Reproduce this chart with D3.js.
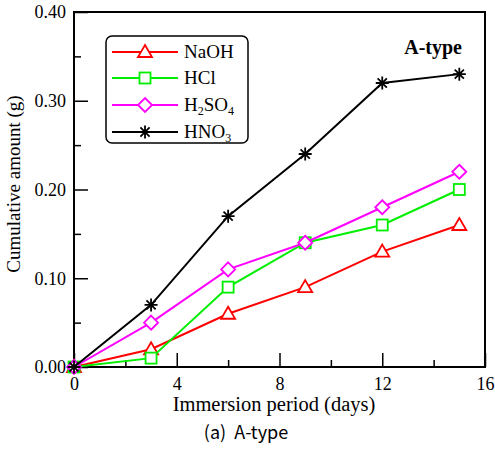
<!DOCTYPE html>
<html>
<head>
<meta charset="utf-8">
<script src="https://cdn.jsdelivr.net/npm/d3@7"></script>
<style>
  body { margin: 0; background: #fff; }
  text { font-family: "Liberation Serif", "Times New Roman", serif; }
</style>
</head>
<body>
<div class="chart"></div>
<script>
'use strict';
(function() {
  // Data
  var days = [0, 3, 6, 9, 12, 15];
  var naoh = [0, 0.02, 0.06, 0.09, 0.13, 0.16];
  var hcl = [0, 0.01, 0.09, 0.14, 0.16, 0.20];
  var h2so4 = [0, 0.05, 0.11, 0.14, 0.18, 0.22];
  var hno3 = [0, 0.07, 0.17, 0.24, 0.32, 0.33];
  var xTicks = [0, 4, 8, 12, 16];
  var yTicks = [0, 0.1, 0.2, 0.3, 0.4];

  var series = [
    {name: 'NaOH', values: naoh, color: '#ff0000', marker: 'triangle'},
    {name: 'HCl', values: hcl, color: '#00ee00', marker: 'square'},
    {name: 'H2SO4', values: h2so4, color: '#ff00ff', marker: 'diamond'},
    {name: 'HNO3', values: hno3, color: '#000000', marker: 'star'}
  ];

  var w = 495;
  var h = 449;
  var left = 74, right = 485, top = 12, bottom = 367;

  var x = d3.scaleLinear().domain([0, 16]).range([left, right]);
  var y = d3.scaleLinear().domain([0, 0.4]).range([bottom, top]);

  var svg = d3.select('.chart').append('svg')
    .attr('width', w)
    .attr('height', h);

  // Axes (inside ticks)
  var xAxis = d3.axisBottom(x).tickValues(xTicks).tickSize(-14).tickPadding(10)
    .tickFormat(d3.format('d'));
  var xMinor = d3.axisBottom(x).tickValues([2, 6, 10, 14]).tickSize(-7).tickFormat('');
  var yAxis = d3.axisLeft(y).tickValues(yTicks).tickSize(-14).tickPadding(8)
    .tickFormat(d3.format('.2f'));
  var yMinor = d3.axisLeft(y).tickValues([0.05, 0.15, 0.25, 0.35]).tickSize(-7).tickFormat('');

  function styleAxis(g) {
    g.attr('font-family', '"Liberation Serif", serif').attr('font-size', 18);
    g.select('.domain').remove();
    g.selectAll('line').attr('stroke', '#000').attr('stroke-width', 1.5);
    g.selectAll('text').attr('fill', '#000');
  }

  svg.append('g').attr('transform', 'translate(0,' + bottom + ')').call(xAxis).call(styleAxis);
  svg.append('g').attr('transform', 'translate(0,' + bottom + ')').call(xMinor).call(styleAxis);
  svg.append('g').attr('transform', 'translate(' + left + ',0)').call(yAxis).call(styleAxis);
  svg.append('g').attr('transform', 'translate(' + left + ',0)').call(yMinor).call(styleAxis);

  // Frame
  svg.append('rect')
    .attr('x', left).attr('y', top)
    .attr('width', right - left).attr('height', bottom - top)
    .attr('fill', 'none').attr('stroke', '#000').attr('stroke-width', 2);

  // Markers
  var drawMarker = function(g, type, cx, cy, color) {
    if (type === 'triangle') {
      g.append('path')
        .attr('d', 'M' + cx + ',' + (cy - 7) + 'L' + (cx + 7) + ',' + (cy + 5) + 'L' + (cx - 7) + ',' + (cy + 5) + 'Z')
        .attr('fill', '#fff').attr('stroke', color).attr('stroke-width', 1.8);
    } else if (type === 'square') {
      g.append('rect')
        .attr('x', cx - 5.5).attr('y', cy - 5.5).attr('width', 11).attr('height', 11)
        .attr('fill', '#fff').attr('stroke', color).attr('stroke-width', 1.8);
    } else if (type === 'diamond') {
      g.append('path')
        .attr('d', 'M' + cx + ',' + (cy - 7) + 'L' + (cx + 7) + ',' + cy + 'L' + cx + ',' + (cy + 7) + 'L' + (cx - 7) + ',' + cy + 'Z')
        .attr('fill', '#fff').attr('stroke', color).attr('stroke-width', 1.8);
    } else {
      var r = 6.5;
      var d = '';
      for (var k = 0; k < 4; k++) {
        var a = k * Math.PI / 4;
        d += 'M' + (cx - r * Math.cos(a)) + ',' + (cy - r * Math.sin(a)) +
             'L' + (cx + r * Math.cos(a)) + ',' + (cy + r * Math.sin(a));
      }
      g.append('path').attr('d', d).attr('stroke', color).attr('stroke-width', 1.8);
    }
  };

  var line = d3.line()
    .x(function(d) { return x(d[0]); })
    .y(function(d) { return y(d[1]); });

  series.forEach(function(s) {
    var pts = days.map(function(dd, i) { return [dd, s.values[i]]; });
    var g = svg.append('g');
    g.append('path').datum(pts)
      .attr('d', line)
      .attr('fill', 'none')
      .attr('stroke', s.color)
      .attr('stroke-width', 2);
    pts.forEach(function(p) {
      drawMarker(g, s.marker, x(p[0]), y(p[1]), s.color);
    });
  });

  // Legend
  var legend = svg.append('g');
  legend.append('rect')
    .attr('x', 106).attr('y', 36).attr('width', 142).attr('height', 107)
    .attr('rx', 6).attr('ry', 6)
    .attr('fill', '#fff').attr('stroke', '#000').attr('stroke-width', 1.5);
  var rowY = [52, 78, 105, 132];
  series.forEach(function(s, i) {
    legend.append('line')
      .attr('x1', 112).attr('x2', 178).attr('y1', rowY[i]).attr('y2', rowY[i])
      .attr('stroke', s.color).attr('stroke-width', 2);
    drawMarker(legend, s.marker, 145, rowY[i], s.color);
    var t = legend.append('text')
      .attr('x', 184).attr('y', rowY[i] + 6)
      .attr('font-size', 19).attr('fill', '#000');
    if (s.name === 'H2SO4') {
      t.append('tspan').text('H');
      t.append('tspan').text('2').attr('font-size', 12).attr('dy', 4);
      t.append('tspan').text('SO').attr('dy', -4);
      t.append('tspan').text('4').attr('font-size', 12).attr('dy', 4);
    } else if (s.name === 'HNO3') {
      t.append('tspan').text('HNO');
      t.append('tspan').text('3').attr('font-size', 12).attr('dy', 4);
    } else {
      t.text(s.name);
    }
  });

  // Labels
  svg.append('text')
    .attr('x', 462).attr('y', 54)
    .attr('text-anchor', 'end')
    .attr('font-size', 20).attr('font-weight', 'bold')
    .text('A-type');

  svg.append('text')
    .attr('x', 274).attr('y', 411)
    .attr('text-anchor', 'middle')
    .attr('font-size', 20.5)
    .text('Immersion period (days)');

  svg.append('text')
    .attr('transform', 'translate(20,184) rotate(-90)')
    .attr('text-anchor', 'middle')
    .attr('font-size', 19)
    .text('Cumulative amount (g)');

  svg.append('text')
    .attr('x', 246).attr('y', 439)
    .attr('text-anchor', 'middle')
    .attr('font-size', 18)
    .attr('xml:space', 'preserve')
    .style('white-space', 'pre')
    .style('font-family', '"Noto Sans CJK KR", "DejaVu Sans", sans-serif')
    .text('(a)  A-type');
})();
</script>
</body>
</html>
